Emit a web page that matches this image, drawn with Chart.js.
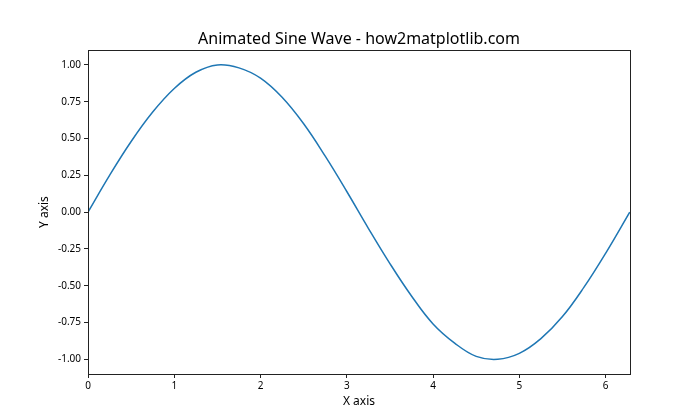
<!DOCTYPE html>
<html>
<head>
<meta charset="utf-8">
<script src="https://cdn.jsdelivr.net/npm/chart.js@4"></script>
<style>
html,body{margin:0;padding:0;background:#fff;}
#wrap{width:700px;height:420px;}
</style>
</head>
<body>
<div id="wrap"><canvas id="grafico"></canvas></div>
<script>
// values
const xVals = [0,0.25,0.5,0.75,1,1.25,1.5,1.75,2,2.25,2.5,2.75,3,3.25,3.5,3.75,4,4.25,4.5,4.75,5,5.25,5.5,5.75,6,6.28];
const yVals = [0,0.25,0.48,0.68,0.84,0.95,1.00,0.98,0.91,0.78,0.60,0.38,0.14,-0.11,-0.35,-0.57,-0.76,-0.89,-0.98,-1.00,-0.96,-0.86,-0.71,-0.51,-0.28,0.00];
const xTicks = [0,1,2,3,4,5,6];
const yTicks = [-1,-0.75,-0.5,-0.25,0,0.25,0.5,0.75,1];

const fonte = "'Noto Sans', 'Open Sans', sans-serif";

const pontos = xVals.map((x,i) => ({x:x, y:yVals[i]}));

// frame round the plot area
const moldura = {
  id:'moldura',
  afterDraw(chart){
    const a = chart.chartArea;
    const ctx = chart.ctx;
    ctx.save();
    ctx.strokeStyle = '#222';
    ctx.lineWidth = 1;
    ctx.strokeRect(Math.round(a.left)+0.5, Math.round(a.top)+0.5, Math.round(a.right-a.left), Math.round(a.bottom-a.top));
    ctx.restore();
  }
};

new Chart(document.getElementById('grafico'), {
  type:'line',
  data:{
    datasets:[{
      data:pontos,
      borderColor:'#1f77b4',
      borderWidth:1.5,
      pointRadius:0,
      tension:0.4,
      fill:false
    }]
  },
  options:{
    responsive:true,
    maintainAspectRatio:false,
    animation:false,
    layout:{padding:{left:0,right:70,top:0,bottom:0}},
    plugins:{
      legend:{display:false},
      tooltip:{enabled:false},
      title:{
        display:true,
        fullSize:false,
        text:'Animated Sine Wave - how2matplotlib.com',
        color:'#000',
        font:{family:fonte,size:16,weight:'normal'},
        padding:{top:30,bottom:1}
      }
    },
    scales:{
      x:{
        type:'linear',
        min:0,
        max:6.283,
        afterBuildTicks(s){ s.ticks = xTicks.map(v => ({value:v})); },
        afterFit(s){ s.height = 46; },
        grid:{drawOnChartArea:false,tickLength:4,color:'#222'},
        border:{color:'#222'},
        ticks:{color:'#000',font:{family:fonte,size:10},padding:2,maxRotation:0},
        title:{display:true,text:'X axis',color:'#000',font:{family:fonte,size:12},padding:{top:0,bottom:11}}
      },
      y:{
        min:-1.1,
        max:1.1,
        afterBuildTicks(s){ s.ticks = yTicks.map(v => ({value:v})); },
        afterFit(s){ s.width = 88; },
        grid:{drawOnChartArea:false,tickLength:4,color:'#222'},
        border:{color:'#222'},
        ticks:{color:'#000',font:{family:fonte,size:10},padding:3,callback:v => v.toFixed(2)},
        title:{display:true,text:'Y axis',color:'#000',font:{family:fonte,size:12},padding:{top:37,bottom:0}}
      }
    }
  },
  plugins:[moldura]
});
</script>
</body>
</html>
